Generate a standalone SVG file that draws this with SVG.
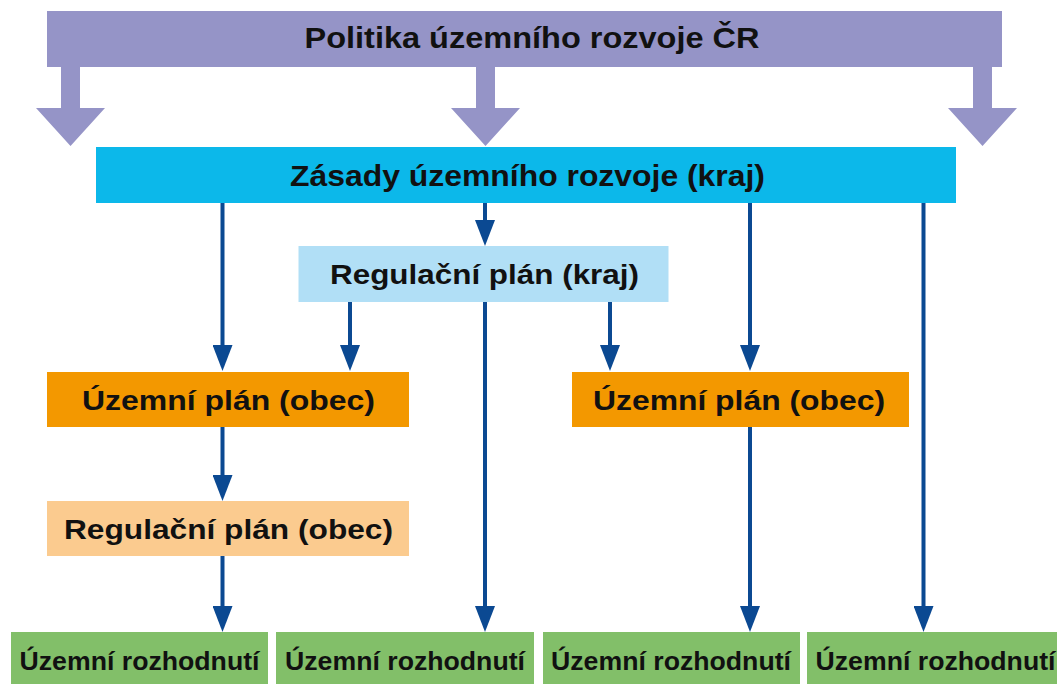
<svg xmlns="http://www.w3.org/2000/svg" width="1057" height="684" viewBox="0 0 1057 684">
<style>
.t{font-family:"Liberation Sans",Arial,sans-serif;font-weight:bold;fill:#111;text-anchor:middle}
.lg{font-size:30px}
.md{font-size:28px}
.sm{font-size:25px}
.fat{fill:#9594c7}
.con{stroke:#0b4992;stroke-width:4;fill:none}
</style>
<defs>
<marker id="ah" markerUnits="userSpaceOnUse" viewBox="0 0 26 20" markerWidth="26" markerHeight="20" refX="6" refY="10" orient="auto">
<path d="M0,0 L26,10 L0,20 z" fill="#0b4992"/>
</marker>
</defs>
<rect width="1057" height="684" fill="#fff"/>
<g id="politika">
<rect x="47" y="11" width="955" height="56" class="fat"/>
<text class="t lg" x="532" y="48" textLength="455" lengthAdjust="spacingAndGlyphs">Politika územního rozvoje ČR</text>
</g>
<g id="fat-arrows">
<polygon class="fat" points="61,66 80,66 80,108 105,108 70.5,146 36,108 61,108"/>
<polygon class="fat" points="476,66 495,66 495,108 520,108 485.5,146 451,108 476,108"/>
<polygon class="fat" points="973,66 992,66 992,108 1017,108 982.5,146 948,108 973,108"/>
</g>
<g id="zasady">
<rect x="96" y="147" width="860" height="56" fill="#0cb8ea"/>
<text class="t lg" x="527.5" y="186" textLength="475" lengthAdjust="spacingAndGlyphs">Zásady územního rozvoje (kraj)</text>
</g>
<g id="regkraj">
<rect x="298.5" y="246" width="370" height="56" fill="#b1dff6"/>
<text class="t md" x="484.5" y="284" textLength="309" lengthAdjust="spacingAndGlyphs">Regulační plán (kraj)</text>
</g>
<g id="up-left">
<rect x="47" y="372" width="362" height="55" fill="#f39800"/>
<text class="t md" x="228.5" y="410" textLength="293" lengthAdjust="spacingAndGlyphs">Územní plán (obec)</text>
</g>
<g id="up-right">
<rect x="572" y="372" width="337" height="55" fill="#f39800"/>
<text class="t md" x="739" y="410" textLength="292" lengthAdjust="spacingAndGlyphs">Územní plán (obec)</text>
</g>
<g id="regobec">
<rect x="47" y="501" width="362" height="55" fill="#fbcb8f"/>
<text class="t md" x="228.5" y="539" textLength="329" lengthAdjust="spacingAndGlyphs">Regulační plán (obec)</text>
</g>
<g id="ur1">
<rect x="11" y="632" width="257" height="52" fill="#82bf69"/>
<text class="t sm" x="139.5" y="670" textLength="240" lengthAdjust="spacingAndGlyphs">Územní rozhodnutí</text>
</g>
<g id="ur2">
<rect x="276" y="632" width="258" height="52" fill="#82bf69"/>
<text class="t sm" x="405" y="670" textLength="240" lengthAdjust="spacingAndGlyphs">Územní rozhodnutí</text>
</g>
<g id="ur3">
<rect x="543" y="632" width="257" height="52" fill="#82bf69"/>
<text class="t sm" x="671" y="670" textLength="240" lengthAdjust="spacingAndGlyphs">Územní rozhodnutí</text>
</g>
<g id="ur4">
<rect x="807" y="632" width="250" height="52" fill="#82bf69"/>
<text class="t sm" x="935.5" y="670" textLength="240" lengthAdjust="spacingAndGlyphs">Územní rozhodnutí</text>
</g>
<g id="connectors">
<line class="con" x1="222.5" y1="203" x2="222.5" y2="351" marker-end="url(#ah)"/>
<line class="con" x1="485" y1="203" x2="485" y2="226" marker-end="url(#ah)"/>
<line class="con" x1="350" y1="302" x2="350" y2="351" marker-end="url(#ah)"/>
<line class="con" x1="485" y1="302" x2="485" y2="612" marker-end="url(#ah)"/>
<line class="con" x1="610" y1="302" x2="610" y2="351" marker-end="url(#ah)"/>
<line class="con" x1="750" y1="203" x2="750" y2="351" marker-end="url(#ah)"/>
<line class="con" x1="923.5" y1="203" x2="923.5" y2="612" marker-end="url(#ah)"/>
<line class="con" x1="222.5" y1="427" x2="222.5" y2="481" marker-end="url(#ah)"/>
<line class="con" x1="222.5" y1="556" x2="222.5" y2="612" marker-end="url(#ah)"/>
<line class="con" x1="750" y1="427" x2="750" y2="612" marker-end="url(#ah)"/>
</g>
</svg>
